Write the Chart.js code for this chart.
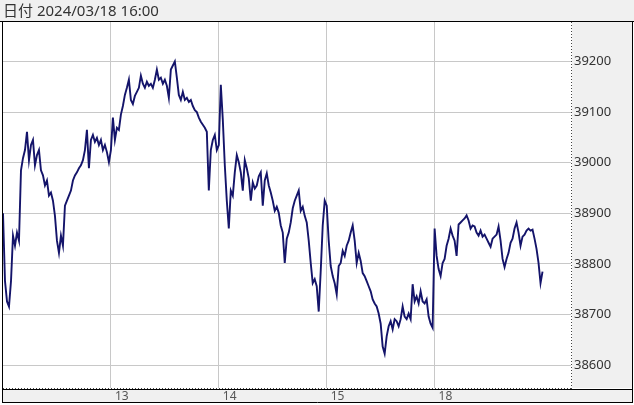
<!DOCTYPE html>
<html>
<head>
<meta charset="utf-8">
<script src="https://cdn.jsdelivr.net/npm/chart.js@4"></script>
<style>
  body { margin: 0; background: #fff; }
  #wrap { position: relative; width: 634px; height: 405px; }
  #head { position: absolute; left: 3px; top: 0; height: 21px; line-height: 21px;
          font-family: 'Noto Sans', 'Noto Sans CJK JP', sans-serif; font-size: 15px; color: #333; }
</style>
</head>
<body>
<div id="wrap">
  <canvas id="myChart" width="634" height="405"></canvas>
  <div id="head">日付 2024/03/18 16:00</div>
</div>
<script>
// 5 days, 54 samples per day (12 is partial)
const dayStarts = [54, 108, 162, 216];
const dayLabels = ['13', '14', '15', '18'];
const yTicks = [38600, 38700, 38800, 38900, 39000, 39100, 39200];

const day12 = [38900, 38766, 38726, 38716, 38766, 38856, 38836, 38862, 38846, 38985,
  39009, 39025, 39061, 39005, 39035, 39045, 38995, 39015, 39025, 38985,
  38975, 38955, 38965, 38935, 38941, 38925, 38895, 38846, 38822, 38856,
  38836, 38915, 38925, 38935, 38945, 38965, 38975, 38981, 38989, 38995,
  39005, 39025, 39065, 38989, 39045, 39055, 39041, 39049, 39035, 39045,
  39025, 39035, 39021, 39001];
const day13 = [39025, 39089, 39045, 39069, 39065, 39095, 39112, 39134, 39148, 39164,
  39124, 39116, 39132, 39140, 39148, 39172, 39156, 39148, 39160, 39152,
  39156, 39148, 39164, 39184, 39164, 39168, 39156, 39164, 39152, 39128,
  39184, 39192, 39200, 39168, 39134, 39124, 39140, 39124, 39128, 39120,
  39124, 39112, 39104, 39100, 39089, 39081, 39075, 39069, 39061, 38945,
  39025, 39045, 39055, 39025];
const day14 = [39035, 39154, 39085, 38995, 38925, 38870, 38945, 38935, 38981, 39015,
  39001, 38981, 38945, 39005, 38989, 38969, 38925, 38961, 38949, 38955,
  38973, 38981, 38915, 38965, 38979, 38955, 38941, 38925, 38905, 38913,
  38901, 38876, 38862, 38802, 38850, 38862, 38882, 38910, 38925, 38935,
  38945, 38905, 38913, 38895, 38882, 38846, 38802, 38762, 38770, 38756,
  38706, 38786, 38876, 38925];
const day15 = [38915, 38846, 38796, 38776, 38762, 38740, 38796, 38802, 38826, 38816,
  38836, 38846, 38862, 38876, 38846, 38802, 38822, 38806, 38782, 38776,
  38766, 38756, 38746, 38730, 38722, 38716, 38702, 38682, 38637, 38623,
  38657, 38677, 38687, 38671, 38691, 38687, 38677, 38691, 38716, 38696,
  38691, 38702, 38691, 38760, 38726, 38736, 38722, 38746, 38726, 38722,
  38730, 38696, 38682, 38674];
const day18 = [38870, 38816, 38790, 38776, 38802, 38810, 38836, 38850, 38870, 38856,
  38846, 38816, 38878, 38882, 38886, 38890, 38896, 38886, 38870, 38876,
  38874, 38862, 38856, 38866, 38854, 38858, 38850, 38842, 38834, 38850,
  38854, 38858, 38874, 38846, 38810, 38794, 38810, 38822, 38842, 38850,
  38870, 38882, 38862, 38836, 38854, 38858, 38866, 38870, 38866, 38868,
  38850, 38830, 38802, 38762, 38785];

const prices = day12.concat(day13, day14, day15, day18);
const points = prices.map((v, i) => ({ x: i, y: v }));

const fontFam = "'Noto Sans', 'Noto Sans CJK JP', sans-serif";

// gray panels + black/dotted frame lines
const frame = {
  id: 'frame',
  beforeDraw(chart) {
    const c = chart.ctx, a = chart.chartArea, w = chart.width;
    c.save();
    c.fillStyle = '#fff';
    c.fillRect(0, 0, w, chart.height);
    c.fillStyle = '#f0f0f0';
    c.fillRect(0, 0, w, 21);
    c.fillRect(a.right + 1, 21, w - 2 - a.right - 1, a.bottom - 21);
    c.fillRect(3, a.bottom + 1, w - 5, 13);
    c.restore();
  },
  afterDraw(chart) {
    const c = chart.ctx, a = chart.chartArea, w = chart.width;
    const bb = a.bottom + 14.5;
    c.save();
    c.strokeStyle = '#000';
    c.lineWidth = 1;
    c.beginPath();
    c.moveTo(0, 21.5); c.lineTo(w, 21.5);
    c.moveTo(2.5, 21); c.lineTo(2.5, bb);
    c.moveTo(w - 1.5, 21); c.lineTo(w - 1.5, bb);
    c.moveTo(2, a.bottom + 1.5); c.lineTo(w - 1, a.bottom + 1.5);
    c.moveTo(2, bb); c.lineTo(w - 1, bb);
    c.stroke();
    c.strokeStyle = '#444';
    c.setLineDash([1, 2]);
    c.beginPath();
    c.moveTo(a.right + 0.5, a.top); c.lineTo(a.right + 0.5, a.bottom + 1);
    c.moveTo(a.left, a.bottom + 0.5); c.lineTo(a.right, a.bottom + 0.5);
    c.stroke();
    c.restore();
  }
};

new Chart(document.getElementById('myChart'), {
  type: 'line',
  data: {
    datasets: [{
      data: points,
      borderColor: '#14146a',
      borderWidth: 1.9,
      pointRadius: 0,
      tension: 0
    }]
  },
  options: {
    responsive: false,
    animation: false,
    devicePixelRatio: 1,
    layout: { padding: { left: 3, right: 1, top: 22, bottom: 3 } },
    plugins: { legend: { display: false }, tooltip: { enabled: false } },
    scales: {
      x: {
        type: 'linear',
        min: 0,
        max: 284.25,
        afterBuildTicks: (scale) => { scale.ticks = dayStarts.map(v => ({ value: v })); },
        afterFit: (scale) => { scale.height = 14; },
        grid: { color: '#c8c8c8', drawTicks: false },
        border: { display: false },
        ticks: {
          align: 'start',
          labelOffset: 4,
          padding: 1,
          maxRotation: 0,
          autoSkip: false,
          color: '#555',
          font: { family: fontFam, size: 12 },
          callback: (v) => dayLabels[dayStarts.indexOf(v)]
        }
      },
      y: {
        position: 'right',
        min: 38555,
        max: 39278,
        afterBuildTicks: (scale) => { scale.ticks = yTicks.map(v => ({ value: v })); },
        afterFit: (scale) => { scale.width = 62; },
        grid: { color: '#c8c8c8', drawTicks: false },
        border: { display: false },
        ticks: {
          padding: 3,
          color: '#333',
          font: { family: fontFam, size: 13 },
          callback: (v) => String(v)
        }
      }
    }
  },
  plugins: [frame]
});
</script>
</body>
</html>
